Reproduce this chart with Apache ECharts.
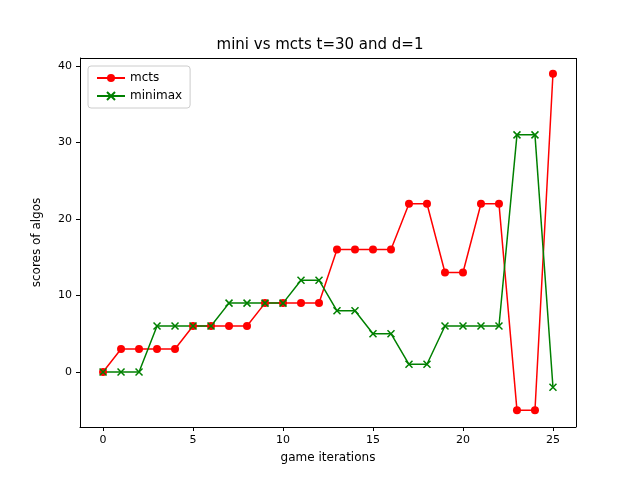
<!DOCTYPE html>
<html>
<head>
<meta charset="utf-8">
<script src="https://cdn.jsdelivr.net/npm/echarts@6/dist/echarts.min.js"></script>
<style>body{margin:0}#c{width:640px;height:480px}</style>
</head>
<body>
<div id="c"></div>
<script>
var iterations = [];
for (var i = 0; i <= 25; i++) iterations.push(i);
var mctsScores = [0,3,3,3,3,6,6,6,6,9,9,9,9,16,16,16,16,22,22,13,13,22,22,-5,-5,39];
var minimaxScores = [0,0,0,6,6,6,6,9,9,9,9,12,12,8,8,5,5,1,1,6,6,6,6,31,31,-2];
var xTicks = [0,5,10,15,20,25];
var yTicks = [0,10,20,30,40];

function pairs(vals) {
    var out = [];
    for (var i = 0; i < vals.length; i++) out.push([iterations[i], vals[i]]);
    return out;
}

var chart = echarts.init(document.getElementById('c'));
var font = 'DejaVu Sans';
chart.setOption({
    animation: false,
    textStyle: {fontFamily: font},
    title: {
        text: 'mini vs mcts t=30 and d=1',
        left: 'center', top: 33,
        textStyle: {fontSize: 15, fontWeight: 'normal', color: '#000', fontFamily: font}
    },
    legend: {
        left: 88, top: 66, orient: 'vertical',
        borderColor: '#ccc', borderWidth: 1, borderRadius: 3,
        padding: [6, 8], itemGap: 6, itemWidth: 28, itemHeight: 10,
        textStyle: {fontSize: 12, color: '#000'},
        data: ['mcts', 'minimax']
    },
    grid: {left: 80, right: 64, top: 58, bottom: 53},
    xAxis: {
        type: 'value', min: -1.28, max: 26.28,
        name: 'game iterations', nameLocation: 'middle', nameGap: 25,
        nameTextStyle: {fontSize: 12, color: '#000'},
        axisLine: {onZero: false, lineStyle: {color: '#000'}},
        axisTick: {show: true, customValues: xTicks, length: 4, inside: false, lineStyle: {color: '#000'}},
        axisLabel: {customValues: xTicks, color: '#000', fontSize: 11},
        splitLine: {show: false}
    },
    yAxis: {
        type: 'value', min: -7.2, max: 41.05,
        name: 'scores of algos', nameLocation: 'middle', nameGap: 37,
        nameTextStyle: {fontSize: 12, color: '#000'},
        axisLine: {show: true, onZero: false, lineStyle: {color: '#000'}},
        axisTick: {show: true, customValues: yTicks, length: 4, lineStyle: {color: '#000'}},
        axisLabel: {customValues: yTicks, color: '#000', fontSize: 11},
        splitLine: {show: false}
    },
    series: [
        {
            name: 'mcts', type: 'line', data: pairs(mctsScores),
            color: 'red', symbol: 'circle', symbolSize: 8,
            lineStyle: {width: 1.5}
        },
        {
            name: 'minimax', type: 'line', data: pairs(minimaxScores),
            color: 'green',
            symbol: 'path://M0,0L10,10M10,0L0,10', symbolSize: 7,
            itemStyle: {borderColor: 'green', borderWidth: 1.5},
            lineStyle: {width: 1.5}
        },
        {
            type: 'line', data: [], silent: true,
            markLine: {
                silent: true, symbol: 'none', label: {show: false},
                lineStyle: {color: '#000', type: 'solid', width: 1},
                data: [[{coord: [-1.28, 41.05]}, {coord: [26.28, 41.05]}],
                       [{coord: [26.28, -7.2]}, {coord: [26.28, 41.05]}]]
            }
        }
    ]
});
</script>
</body>
</html>
